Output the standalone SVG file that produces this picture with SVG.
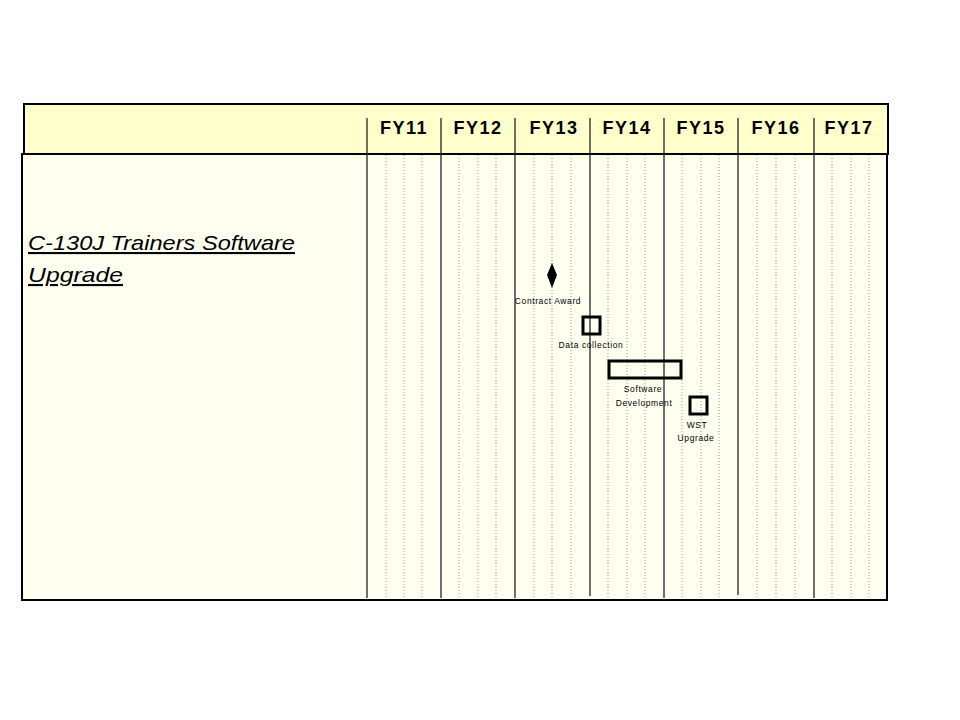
<svg xmlns="http://www.w3.org/2000/svg" width="960" height="720" viewBox="0 0 960 720">
<style>
.fy{font-family:"Liberation Sans",Arial,sans-serif;font-weight:bold;font-size:18px;letter-spacing:1.5px;fill:#000;text-anchor:middle}
.lbl{font-family:"Liberation Sans",Arial,sans-serif;font-size:8.5px;letter-spacing:0.6px;fill:#000;text-anchor:middle}
.title{font-family:"Liberation Sans",Arial,sans-serif;font-style:italic;font-size:21px;fill:#000;text-decoration:underline}
.yr{stroke:#222;stroke-width:1.3}
.q{stroke:#999;stroke-width:1;stroke-dasharray:1,2}
.task{fill:none;stroke:#000;stroke-width:3}
</style>
<rect width="960" height="720" fill="#fff"/>
<g id="header">
<rect x="24" y="104" width="864" height="50" fill="#FFFFCC" stroke="#000" stroke-width="2"/>
</g>
<g id="body">
<rect x="22" y="154" width="865" height="446" fill="#FFFFF0" stroke="#000" stroke-width="2"/>
</g>
<g id="grid">
<g class="q">
<line x1="386" y1="155" x2="386" y2="598"/><line x1="404" y1="155" x2="404" y2="598"/><line x1="422" y1="155" x2="422" y2="598"/>
<line x1="459" y1="155" x2="459" y2="598"/><line x1="478" y1="155" x2="478" y2="598"/><line x1="496" y1="155" x2="496" y2="598"/>
<line x1="534" y1="155" x2="534" y2="598"/><line x1="552" y1="155" x2="552" y2="598"/><line x1="571" y1="155" x2="571" y2="598"/>
<line x1="608" y1="155" x2="608" y2="598"/><line x1="627" y1="155" x2="627" y2="598"/><line x1="645" y1="155" x2="645" y2="598"/>
<line x1="682" y1="155" x2="682" y2="598"/><line x1="701" y1="155" x2="701" y2="598"/><line x1="719" y1="155" x2="719" y2="598"/>
<line x1="757" y1="155" x2="757" y2="598"/><line x1="776" y1="155" x2="776" y2="598"/><line x1="795" y1="155" x2="795" y2="598"/>
<line x1="832" y1="155" x2="832" y2="598"/><line x1="851" y1="155" x2="851" y2="598"/><line x1="869" y1="155" x2="869" y2="598"/>
</g>
<g class="yr">
<line x1="367" y1="118" x2="367" y2="598"/>
<line x1="441" y1="118" x2="441" y2="598"/>
<line x1="515" y1="118" x2="515" y2="598"/>
<line x1="590" y1="118" x2="590" y2="596"/>
<line x1="664" y1="118" x2="664" y2="598"/>
<line x1="738" y1="118" x2="738" y2="595"/>
<line x1="814" y1="118" x2="814" y2="598"/>
</g>
</g>
<g id="years">
<text class="fy" x="404" y="134">FY11</text>
<text class="fy" x="478" y="134">FY12</text>
<text class="fy" x="554" y="134">FY13</text>
<text class="fy" x="627" y="134">FY14</text>
<text class="fy" x="701" y="134">FY15</text>
<text class="fy" x="776" y="134">FY16</text>
<text class="fy" x="849" y="134">FY17</text>
</g>
<g id="title">
<text class="title" x="28" y="250" textLength="267" lengthAdjust="spacingAndGlyphs">C-130J Trainers Software</text>
<text class="title" x="28" y="282" textLength="95" lengthAdjust="spacingAndGlyphs">Upgrade</text>
</g>
<g id="contract-award">
<polygon points="552,263 557,275 552,288 547,275" fill="#000"/>
<text class="lbl" x="548" y="304">Contract Award</text>
</g>
<g id="data-collection">
<rect class="task" x="583" y="317" width="17" height="17"/>
<text class="lbl" x="591" y="348">Data collection</text>
</g>
<g id="software-development">
<rect class="task" x="609" y="361" width="72" height="17"/>
<text class="lbl" x="643" y="392">Software</text>
<text class="lbl" x="644" y="406">Development</text>
</g>
<g id="wst-upgrade">
<rect class="task" x="690" y="397" width="17" height="17"/>
<text class="lbl" x="697" y="428">WST</text>
<text class="lbl" x="696" y="441">Upgrade</text>
</g>
<g id="connectors"/>
</svg>
